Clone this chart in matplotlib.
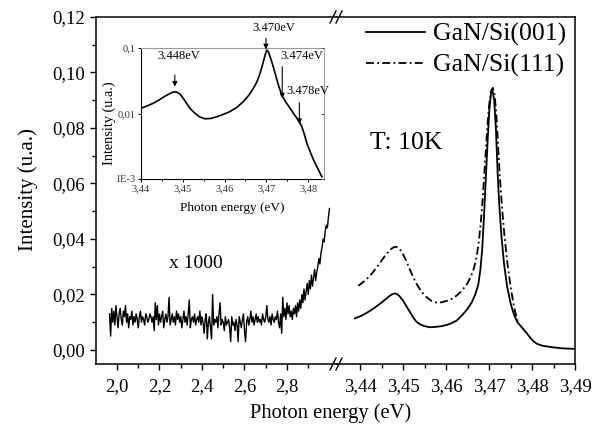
import numpy as np
import matplotlib
matplotlib.use("Agg")
import matplotlib.pyplot as plt
from matplotlib.lines import Line2D

plt.rcParams['font.family'] = ['Liberation Serif', 'DejaVu Serif']

# ---------------- data ----------------
# low-energy part (x 1000), noisy spectrum, values in units of 1e-3
noise_start, noise_stop = 1.965, 3.000
noise_vals_milli = [
    13, 5, 15, 10, 14, 9, 16, 12, 8, 13, 15, 11, 9, 14, 12, 16, 10, 13, 8, 12,
    11, 14, 9, 12, 10, 13, 11, 8, 12, 14, 10, 12, 11, 9, 13, 12, 10, 11, 13, 12,
    10, 12, 7, 17, 11, 16, 9, 13, 10, 12, 14, 8, 11, 13, 10, 12, 19, 9, 11, 13,
    10, 12, 9, 14, 11, 13, 10, 12, 8, 11, 14, 10, 12, 9, 13, 18, 8, 11, 12, 10,
    13, 9, 11, 12, 10, 14, 9, 12, 10, 6, 11, 13, 4, 10, 12, 8, 4, 20, 9, 11,
    10, 12, 8, 13, 17, 9, 11, 10, 7, 12, 9, 10, 11, 8, 3, 12, 9, 10, 7, 11,
    9, 3, 12, 10, 8, 11, 13, 7, 3, 10, 12, 9, 11, 14, 10, 12, 9, 11, 13, 10,
    12, 10, 11, 9, 13, 11, 10, 12, 16, 11, 10, 12, 9, 13, 11, 10, 12, 11, 14, 10,
    8, 13, 6, 19, 12, 15, 11, 17, 13, 16, 12, 14, 11, 15, 13, 16, 12, 17, 14, 18,
    15, 20, 17, 22, 18, 21, 24, 20, 25, 22, 27, 23, 26, 29, 25, 28, 30, 33, 31, 35,
    37, 40, 39, 43, 45, 44, 48, 51,
]

# GaN/Si(001) near band edge
x001 = [3.4388, 3.4400, 3.4410, 3.4420, 3.4430, 3.4440, 3.4450, 3.4460, 3.4468, 3.4475,
        3.4481, 3.4487, 3.4493, 3.4500, 3.4507, 3.4515, 3.4523, 3.4531, 3.4540, 3.4550,
        3.4562, 3.4575, 3.4590, 3.4601, 3.4612, 3.4625, 3.4639, 3.4650, 3.4660, 3.4668,
        3.4675, 3.4680, 3.4684, 3.4688, 3.4692, 3.4697, 3.4701, 3.4705, 3.4708, 3.4712,
        3.4716, 3.4720, 3.4724, 3.4729, 3.4735, 3.4742, 3.4750, 3.4758, 3.4766, 3.4776,
        3.4786, 3.4795, 3.4803, 3.4812, 3.4825, 3.4847, 3.4870, 3.4900]
y001 = [0.0114, 0.0121, 0.0129, 0.0138, 0.0148, 0.0159, 0.0171, 0.0183, 0.0194, 0.0201,
        0.0204, 0.0201, 0.0192, 0.0178, 0.0160, 0.0140, 0.0119, 0.0102, 0.0092, 0.0086,
        0.0082, 0.0083, 0.0086, 0.0090, 0.0096, 0.0106, 0.0128, 0.0148, 0.0172, 0.0200,
        0.0235, 0.0290, 0.0360, 0.0470, 0.0600, 0.0760, 0.0870, 0.0930, 0.0937, 0.0900,
        0.0800, 0.0640, 0.0520, 0.0410, 0.0310, 0.0230, 0.0170, 0.0128, 0.0100, 0.0082,
        0.0064, 0.0046, 0.0032, 0.0022, 0.0015, 0.0010, 0.0006, 0.0004]

# GaN/Si(111)
x111 = [3.4396, 3.4410, 3.4420, 3.4430, 3.4440, 3.4450, 3.4460, 3.4468, 3.4475, 3.4481,
        3.4487, 3.4493, 3.4500, 3.4508, 3.4516, 3.4524, 3.4532, 3.4542, 3.4552, 3.4565,
        3.4578, 3.4590, 3.4602, 3.4616, 3.4628, 3.4640, 3.4650, 3.4658, 3.4665, 3.4671,
        3.4676, 3.4681, 3.4686, 3.4691, 3.4696, 3.4700, 3.4705, 3.4709, 3.4713, 3.4717,
        3.4721, 3.4725, 3.4730, 3.4736, 3.4743, 3.4751, 3.4759, 3.4767]
y111 = [0.0231, 0.0248, 0.0262, 0.0280, 0.0300, 0.0322, 0.0343, 0.0358, 0.0367, 0.0372,
        0.0370, 0.0362, 0.0345, 0.0320, 0.0290, 0.0262, 0.0237, 0.0212, 0.0194, 0.0178,
        0.0171, 0.0172, 0.0177, 0.0186, 0.0200, 0.0220, 0.0240, 0.0265, 0.0295, 0.0335,
        0.0385, 0.0460, 0.0560, 0.0680, 0.0800, 0.0880, 0.0935, 0.0945, 0.0920, 0.0850,
        0.0740, 0.0630, 0.0520, 0.0410, 0.0310, 0.0220, 0.0150, 0.0100]

# inset (log scale)
x_in = [3.4400, 3.4415, 3.4429, 3.4442, 3.4453, 3.4467, 3.4475, 3.4481, 3.4487, 3.4493,
        3.4500, 3.4509, 3.4518, 3.4529, 3.4540, 3.4553, 3.4567, 3.4581, 3.4597, 3.4613,
        3.4630, 3.4645, 3.4658, 3.4669, 3.4678, 3.4685, 3.4691, 3.4697, 3.4701, 3.4705,
        3.4709, 3.4715, 3.4721, 3.4729, 3.4737, 3.4747, 3.4757, 3.4765, 3.4773, 3.4780,
        3.4785, 3.4791, 3.4797, 3.4805, 3.4813, 3.4823, 3.4833]
y_in = [0.0120, 0.0131, 0.0143, 0.0159, 0.0177, 0.0198, 0.0210, 0.0215, 0.0210, 0.0199,
        0.0175, 0.0143, 0.0118, 0.0101, 0.0089, 0.0083, 0.0084, 0.0089, 0.0097, 0.0107,
        0.0125, 0.0152, 0.0190, 0.0242, 0.0310, 0.0410, 0.0560, 0.0780, 0.0930, 0.0870,
        0.0740, 0.0560, 0.0410, 0.0270, 0.0191, 0.0148, 0.0120, 0.0100, 0.0085, 0.0073,
        0.0063, 0.0048, 0.0035, 0.0026, 0.00195, 0.00145, 0.00108]

main_yticks = [0.00, 0.02, 0.04, 0.06, 0.08, 0.10, 0.12]
main_ytick_labels = ["0,00", "0,02", "0,04", "0,06", "0,08", "0,10", "0,12"]
left_xticks = [2.0, 2.2, 2.4, 2.6, 2.8]
left_xtick_labels = ["2,0", "2,2", "2,4", "2,6", "2,8"]
right_xticks = [3.44, 3.45, 3.46, 3.47, 3.48, 3.49]
right_xtick_labels = ["3,44", "3,45", "3,46", "3,47", "3,48", "3,49"]
inset_xticks = [3.44, 3.45, 3.46, 3.47, 3.48]
inset_xtick_labels = ["3,44", "3,45", "3,46", "3,47", "3,48"]
inset_yticks = [1e-3, 1e-2, 1e-1]
inset_ytick_labels = ["1E-3", "0,01", "0,1"]
series_labels = ["GaN/Si(001)", "GaN/Si(111)"]

# ---------------- figure ----------------
W, H = 599, 428
fig = plt.figure(figsize=(W / 100, H / 100), dpi=100)

def fx(px):
    return px / W

def fy(py):
    return 1 - py / H

x_left, x_break, x_right = 96, 337, 575
y_top, y_bot = 17, 364
axL = fig.add_axes([fx(x_left), fy(y_bot), fx(x_break - x_left), (y_bot - y_top) / H])
axR = fig.add_axes([fx(x_break), fy(y_bot), fx(x_right - x_break), (y_bot - y_top) / H])

lw_sp = 1.1
noise_x = np.linspace(noise_start, noise_stop, len(noise_vals_milli))
noise_y = np.array(noise_vals_milli) * 1e-3
axL.plot(noise_x, noise_y, color='black', lw=1.0)

axR.plot(x001, y001, color='black', lw=1.3, label=series_labels[0])
axR.plot(x111, y111, color='black', lw=1.3, linestyle=(0, (4.4, 1.8, 1.0, 1.8)),
         label=series_labels[1])

ylim = (-0.00505, 0.12)
for ax in (axL, axR):
    ax.set_ylim(*ylim)
    ax.patch.set_alpha(0)
    for s in ax.spines.values():
        s.set_linewidth(lw_sp)
    ax.tick_params(which='major', direction='out', length=4.5, width=1.0, labelsize=13.5)
    ax.tick_params(which='minor', direction='out', length=2.6, width=1.0)

axL.set_xlim(1.9012, 3.0353)
axL.spines['right'].set_visible(False)
axL.set_yticks(main_yticks)
axL.set_yticklabels(main_ytick_labels)
axL.set_yticks([0.01, 0.03, 0.05, 0.07, 0.09, 0.11], minor=True)
axL.set_xticks(left_xticks)
axL.set_xticklabels(left_xtick_labels)
axL.set_xticks([2.1, 2.3, 2.5, 2.7, 2.9], minor=True)
axL.tick_params(axis='x', pad=6)

axR.set_xlim(3.43465, 3.49)
axR.spines['left'].set_visible(False)
axR.set_yticks([])
axR.set_yticks([], minor=True)
axR.set_xticks(right_xticks)
axR.set_xticklabels(right_xtick_labels)
axR.set_xticks([3.445, 3.455, 3.465, 3.475, 3.485], minor=True)
axR.tick_params(axis='x', pad=6)

# break marks
for yb in (y_top, y_bot):
    for xb in (x_break - 4, x_break + 2):
        fig.add_artist(Line2D([fx(xb - 3), fx(xb + 3)], [fy(yb + 6), fy(yb - 6)],
                              color='black', lw=1.0, transform=fig.transFigure))

# annotations in main plot
axL.text(2.372, 0.0313, "x 1000", fontsize=14, ha='center', va='center')
axR.text(3.4423, 0.0746, "T: 10K", fontsize=18.5, ha='left', va='center')

leg = axR.legend(loc='upper right', bbox_to_anchor=(fx(566), fy(23)),
                 bbox_transform=fig.transFigure, frameon=False, fontsize=18.5,
                 handlelength=2.3, handletextpad=0.3, labelspacing=0.28,
                 borderpad=0, borderaxespad=0)

fig.text(fx(331), fy(413), "Photon energy (eV)", fontsize=14.8, ha='center', va='center')
fig.text(fx(28), fy(190), "Intensity (u.a.)", fontsize=15, ha='center', va='center',
         rotation=90)

# ---------------- inset ----------------
axI = fig.add_axes([fx(141), fy(179), fx(324 - 141), (179 - 48) / H])
axI.semilogy(x_in, y_in, color='black', lw=1.2)
axI.set_xlim(3.44, 3.4838)
axI.set_ylim(1e-3, 0.1)
axI.set_xticks(inset_xticks)
axI.set_xticklabels(inset_xtick_labels)
axI.set_xticks([3.445, 3.455, 3.465, 3.475], minor=True)
axI.set_yticks(inset_yticks)
axI.set_yticklabels(inset_ytick_labels)
axI.yaxis.set_minor_locator(matplotlib.ticker.NullLocator())
axI.tick_params(which='major', direction='out', length=2.5, width=0.7, labelsize=7.5,
                pad=1.5, labelcolor='#333333')
axI.tick_params(which='minor', direction='out', length=1.5, width=0.7)
for s in ('left', 'bottom'):
    axI.spines[s].set_linewidth(0.8)
for s in ('top', 'right'):
    axI.spines[s].set_linewidth(0.8)
    axI.spines[s].set_color('#9a9a9a')
axI.set_xlabel("Photon energy (eV)", fontsize=9.5, labelpad=6)
axI.set_ylabel("Intensity (u.a.)", fontsize=10.3)
axI.yaxis.set_label_coords(-0.135, 0.427)

# inward ticks on the right side of the inset
axI2 = axI.twinx()
axI2.set_yscale('log')
axI2.set_ylim(1e-3, 0.1)
axI2.set_yticks(inset_yticks)
axI2.set_yticklabels([])
axI2.yaxis.set_minor_locator(matplotlib.ticker.NullLocator())
axI2.tick_params(direction='in', length=2.5, width=0.7, color='#555555')
for s in axI2.spines.values():
    s.set_visible(False)

arrow_kw = dict(arrowstyle='-|>', color='black', lw=0.8, mutation_scale=7,
                shrinkA=0, shrinkB=0)
# (label, text x, text y, arrow x, tail y, head y)
peaks = [
    ("3.448eV", 3.4491, 0.0755, 3.4481, 0.0387, 0.0257),
    ("3.470eV", 3.4717, 0.200, 3.4699, 0.1406, 0.0955),
    ("3.474eV", 3.4785, 0.0755, 3.4738, 0.0518, 0.0170),
    ("3.478eV", 3.4800, 0.0223, 3.4779, 0.0146, 0.0069),
]
for lab, tx, ty, axx, yt, yh in peaks:
    axI.text(tx, ty, lab, fontsize=9, ha='center', va='center', clip_on=False)
    axI.annotate('', xy=(axx, yh), xytext=(axx, yt), arrowprops=arrow_kw,
                 annotation_clip=False)

fig.savefig("out.png", dpi=100)
